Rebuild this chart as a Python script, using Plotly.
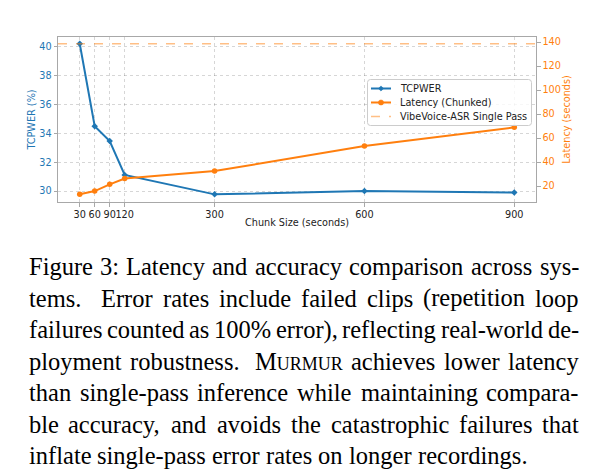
import plotly.graph_objects as go

# ---------------- data ----------------
chunk_sizes = [30, 60, 90, 120, 300, 600, 900]
tcpwer = [40.22, 34.5, 33.47, 31.12, 29.77, 30.0, 29.9]
latency_chunked = [13.1, 15.8, 21.4, 26.2, 32.5, 53.3, 68.9]
single_pass_latency = 138.6

x_ticks = [30, 60, 90, 120, 300, 600, 900]
y1_ticks = [30, 32, 34, 36, 38, 40]
y2_ticks = [20, 40, 60, 80, 100, 120, 140]

x_range = [-13.5, 943.5]
y1_range = [29.24, 40.69]
y2_range = [6.7, 144.2]

legend_names = ["TCPWER", "Latency (Chunked)", "VibeVoice-ASR Single Pass"]

caption_lines = [
    "Figure 3: Latency and accuracy comparison across sys-",
    "tems. Error rates include failed clips (repetition loop",
    "failures counted as 100% error), reflecting real-world de-",
    "ployment robustness. Murmur achieves lower latency",
    "than single-pass inference while maintaining compara-",
    "ble accuracy, and avoids the catastrophic failures that",
    "inflate single-pass error rates on longer recordings.",
]
small_caps_word = "Murmur"

# ---------------- style ----------------
W, H = 597, 476
ML, MR, MT, MB = 58, 61, 37, 274
PW, PH = W - ML - MR, H - MT - MB
BLUE = "#1f77b4"
ORANGE = "#ff7f0e"
ORANGE_A = "rgba(255,127,14,0.5)"
FRAME = "#a8a8a8"
GRID = "rgba(0,0,0,0.16)"
SANS = "DejaVu Sans"
SERIF = "Liberation Serif, Times New Roman, serif"
FS_CHART = 9.7
FS_CAP = 24.5
SC_SIZE = 18


def px(xp):
    return (xp - ML) / PW


def py(yp):
    return (MT + PH - yp) / PH


fig = go.Figure()
fig.add_trace(go.Scatter(
    x=chunk_sizes, y=tcpwer, name=legend_names[0], mode="lines+markers",
    line=dict(color=BLUE, width=2), marker=dict(symbol="diamond", size=5, color=BLUE),
    yaxis="y", showlegend=False))
fig.add_trace(go.Scatter(
    x=chunk_sizes, y=latency_chunked, name=legend_names[1], mode="lines+markers",
    line=dict(color=ORANGE, width=2), marker=dict(symbol="circle", size=5.5, color=ORANGE),
    yaxis="y2", showlegend=False))
fig.add_trace(go.Scatter(
    x=x_range, y=[single_pass_latency, single_pass_latency], name=legend_names[2],
    mode="lines", line=dict(color=ORANGE_A, width=1.5, dash="dash"),
    yaxis="y2", showlegend=False))

axis_common = dict(showline=True, linecolor=FRAME, linewidth=1, ticks="outside",
                   ticklen=3.5, tickwidth=0.8, tickcolor=FRAME, zeroline=False)

fig.update_layout(
    width=W, height=H,
    margin=dict(l=ML, r=MR, t=MT, b=MB, pad=0),
    paper_bgcolor="white", plot_bgcolor="white",
    font=dict(family=SANS, size=FS_CHART, color="#222222"),
    showlegend=False,
    xaxis=dict(
        range=x_range, tickvals=x_ticks, ticktext=[str(v) for v in x_ticks], tickangle=0,
        showgrid=True, gridcolor=GRID, griddash="dot", gridwidth=0.8, mirror=True,
        title=dict(text="Chunk Size (seconds)", font=dict(size=FS_CHART, color="#222222"), standoff=0),
        tickfont=dict(size=FS_CHART, color="#222222"),
        **axis_common),
    yaxis=dict(
        range=y1_range, tickvals=y1_ticks, showgrid=True, gridcolor=GRID, griddash="dot",
        gridwidth=0.8, mirror=True,
        title=dict(text="TCPWER (%)", font=dict(size=FS_CHART, color=BLUE), standoff=1),
        tickfont=dict(size=FS_CHART, color=BLUE),
        **axis_common),
    yaxis2=dict(
        range=y2_range, tickvals=y2_ticks, overlaying="y", side="right", showgrid=False,
        title=dict(text="Latency (seconds)", font=dict(size=FS_CHART, color=ORANGE), standoff=0),
        tickfont=dict(size=FS_CHART, color=ORANGE),
        **axis_common),
)

# ---------------- legend box (matplotlib style) ----------------
LX0, LX1, LY0, LY1, R = 367.5, 531.5, 79.5, 125.5, 3.0
path = (
    f"M {px(LX0 + R)} {py(LY0)} L {px(LX1 - R)} {py(LY0)} "
    f"Q {px(LX1)} {py(LY0)} {px(LX1)} {py(LY0 + R)} "
    f"L {px(LX1)} {py(LY1 - R)} Q {px(LX1)} {py(LY1)} {px(LX1 - R)} {py(LY1)} "
    f"L {px(LX0 + R)} {py(LY1)} Q {px(LX0)} {py(LY1)} {px(LX0)} {py(LY1 - R)} "
    f"L {px(LX0)} {py(LY0 + R)} Q {px(LX0)} {py(LY0)} {px(LX0 + R)} {py(LY0)} Z"
)
fig.add_shape(type="path", path=path, xref="paper", yref="paper",
              fillcolor="rgba(255,255,255,0.8)", line=dict(color="#cccccc", width=1))

rows = [88.5, 102.5, 116.5]
HX0, HX1, TX = 371.0, 391.0, 399.0
hmid = (HX0 + HX1) / 2
styles = [(BLUE, 2, "solid"), (ORANGE, 2, "solid"), (ORANGE_A, 1.5, "dash")]
for name, ry, (col, lw, dash) in zip(legend_names, rows, styles):
    fig.add_shape(type="line", xref="paper", yref="paper",
                  x0=px(HX0), x1=px(HX1), y0=py(ry), y1=py(ry),
                  line=dict(color=col, width=lw, dash=dash))
    fig.add_annotation(text=name, xref="paper", yref="paper", x=px(TX), y=py(ry),
                       xanchor="left", yanchor="middle", showarrow=False, borderpad=0,
                       font=dict(family=SANS, size=FS_CHART, color="#222222"))
# legend markers
d = 2.6
fig.add_shape(type="path", xref="paper", yref="paper", fillcolor=BLUE, line=dict(color=BLUE, width=0.5),
              path=f"M {px(hmid)} {py(rows[0] - d)} L {px(hmid + d)} {py(rows[0])} "
                   f"L {px(hmid)} {py(rows[0] + d)} L {px(hmid - d)} {py(rows[0])} Z")
c = 2.6
fig.add_shape(type="circle", xref="paper", yref="paper", fillcolor=ORANGE, line=dict(color=ORANGE, width=0.5),
              x0=px(hmid - c), x1=px(hmid + c), y0=py(rows[1] + c), y1=py(rows[1] - c))

# ---------------- justified caption ----------------
TIMES_W = {
    ' ': 250, '!': 333, '%': 833, '(': 333, ')': 333, ',': 250, '-': 333, '.': 250,
    ':': 278, '0': 500, '1': 500, '2': 500, '3': 500, '4': 500, '5': 500, '6': 500,
    '7': 500, '8': 500, '9': 500,
    'A': 722, 'B': 667, 'C': 667, 'D': 722, 'E': 611, 'F': 556, 'G': 722, 'H': 722,
    'I': 333, 'J': 389, 'K': 722, 'L': 611, 'M': 889, 'N': 722, 'O': 722, 'P': 556,
    'Q': 722, 'R': 667, 'S': 556, 'T': 611, 'U': 722, 'V': 722, 'W': 944, 'X': 722,
    'Y': 722, 'Z': 611,
    'a': 444, 'b': 500, 'c': 444, 'd': 500, 'e': 444, 'f': 333, 'g': 500, 'h': 500,
    'i': 278, 'j': 278, 'k': 500, 'l': 278, 'm': 778, 'n': 500, 'o': 500, 'p': 500,
    'q': 500, 'r': 333, 's': 389, 't': 278, 'u': 500, 'v': 500, 'w': 722, 'x': 500,
    'y': 500, 'z': 444,
}


def word_width(word):
    if word == small_caps_word:
        return (TIMES_W[word[0].upper()] * FS_CAP
                + sum(TIMES_W[ch.upper()] for ch in word[1:]) * SC_SIZE) / 1000.0
    return sum(TIMES_W.get(ch, 500) for ch in word) * FS_CAP / 1000.0


def word_markup(word):
    if word == small_caps_word:
        return word[0].upper() + "<span style='font-size:%gpx'>%s</span>" % (SC_SIZE, word[1:].upper())
    return word


CAP_LEFT, CAP_RIGHT = 27.5, 578.0
BASE0, LINE_STEP = 275.5, 31.5
space = 0.25 * FS_CAP

for li, line in enumerate(caption_lines):
    words = line.split(" ")
    widths = [word_width(w) for w in words]
    last = li == len(caption_lines) - 1
    if last or len(words) == 1:
        gaps = [space] * (len(words) - 1)
    else:
        weights = [3.0 if w.endswith(".") else 1.0 for w in words[:-1]]
        natural = [space + (0.08 * FS_CAP if w.endswith(".") else 0) for w in words[:-1]]
        free = (CAP_RIGHT - CAP_LEFT) - sum(widths) - sum(natural)
        if free < 0:
            weights = [1.0] * len(natural)
        tw = sum(weights)
        gaps = [n + free * wt / tw for n, wt in zip(natural, weights)]
    x = CAP_LEFT
    baseline = BASE0 + li * LINE_STEP
    ycenter = baseline - 0.35 * FS_CAP
    for i, w in enumerate(words):
        fig.add_annotation(
            text=word_markup(w), xref="paper", yref="paper",
            x=px(x), y=py(ycenter),
            xanchor="left", yanchor="middle", showarrow=False, borderpad=0,
            font=dict(family=SERIF, size=FS_CAP, color="black"),
        )
        x += widths[i] + (gaps[i] if i < len(gaps) else 0)

fig.write_html("out.html")
